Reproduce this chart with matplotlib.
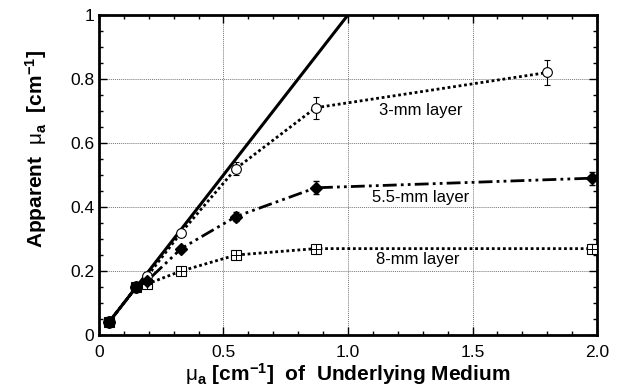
import numpy as np
import matplotlib
matplotlib.use("Agg")
import matplotlib.pyplot as plt
from matplotlib.ticker import MultipleLocator, FixedLocator

plt.rcParams["font.family"] = ["Liberation Sans", "DejaVu Sans"]
plt.rcParams["mathtext.fontset"] = "custom"
plt.rcParams["mathtext.rm"] = "Liberation Sans"
plt.rcParams["mathtext.it"] = "Liberation Sans"
plt.rcParams["mathtext.bf"] = "Liberation Sans:bold"

# underlying medium absorption (x) and apparent absorption for each layer
mu_under = [0.04, 0.15, 0.195, 0.33, 0.55, 0.87]
mu_3mm = [0.04, 0.15, 0.185, 0.32, 0.52, 0.71, 0.82]
err_3mm = [0.0, 0.0, 0.0, 0.0, 0.02, 0.034, 0.04]
x_3mm = mu_under + [1.80]
mu_55mm = [0.04, 0.15, 0.17, 0.27, 0.37, 0.46, 0.49]
err_55mm = [0.0, 0.0, 0.0, 0.0, 0.015, 0.02, 0.02]
x_55mm = mu_under + [1.98]
mu_8mm = [0.04, 0.15, 0.16, 0.20, 0.25, 0.27, 0.27]
err_8mm = [0.0, 0.0, 0.0, 0.0, 0.012, 0.012, 0.015]
x_8mm = mu_under + [1.98]
identity = [0.04, 1.0]

fig = plt.figure(figsize=(6.22, 3.91), dpi=100)
ax = fig.add_axes([0.159, 0.143, 0.801, 0.819])

ax.plot(identity, identity, color="black", lw=2.2, zorder=3)

ax.errorbar(x_3mm, mu_3mm, yerr=err_3mm, color="black", ls=(0, (1, 1)), lw=2,
            marker="o", ms=7, mfc="white", mec="black", mew=0.8,
            ecolor="black", elinewidth=0.8, capsize=2.5, zorder=4)
ax.errorbar(x_8mm, mu_8mm, yerr=err_8mm, color="black", ls=(0, (1, 1)), lw=2,
            marker="s", ms=7, mfc="white", mec="black", mew=0.8,
            ecolor="black", elinewidth=0.8, capsize=2.5, zorder=4)
# crosshair inside the square markers
ax.plot(x_8mm, mu_8mm, ls="none", marker="+", ms=7, mew=0.7, color="black", zorder=5)
ax.errorbar(x_55mm, mu_55mm, yerr=err_55mm, color="black",
            ls=(0, (5, 1.5, 1, 1.5, 1, 1.5)), lw=2,
            marker="D", ms=6, mfc="black", mec="black",
            ecolor="black", elinewidth=0.8, capsize=2.5, zorder=6)
# shared starting points drawn as solid dots
ax.plot(x_55mm[:2], mu_55mm[:2], ls="none", marker="o", ms=8, color="black", zorder=7)

ax.text(1.29, 0.70, "3-mm layer", fontsize=12, ha="center", va="center")
ax.text(1.29, 0.43, "5.5-mm layer", fontsize=12, ha="center", va="center")
ax.text(1.28, 0.235, "8-mm layer", fontsize=12, ha="center", va="center")

ax.set_xlim(0, 2.0)
ax.set_ylim(0, 1.0)
ax.xaxis.set_major_locator(FixedLocator([0, 0.5, 1.0, 1.5, 2.0]))
ax.set_xticklabels(["0", "0.5", "1.0", "1.5", "2.0"])
ax.yaxis.set_major_locator(FixedLocator([0, 0.2, 0.4, 0.6, 0.8, 1.0]))
ax.set_yticklabels(["0", "0.2", "0.4", "0.6", "0.8", "1"])
ax.xaxis.set_minor_locator(MultipleLocator(0.1))
ax.yaxis.set_minor_locator(MultipleLocator(0.05))
ax.tick_params(which="both", direction="in", top=True, right=True, labelsize=12.5,
               width=1)
ax.tick_params(which="major", length=6)
ax.tick_params(which="minor", length=3)
ax.tick_params(axis="x", pad=7)
ax.grid(which="major", color="#777777", ls=(0, (1, 1)), lw=0.7)
for s in ax.spines.values():
    s.set_linewidth(2)

ax.set_xlabel(r"$\mathrm{\mu}_\mathbf{a}$ [cm$^{\mathbf{-1}}$]  of  Underlying Medium",
              fontsize=15, fontweight="bold", labelpad=1)
ax.set_ylabel(r"Apparent  $\mathrm{\mu}_\mathbf{a}$  [cm$^{\mathbf{-1}}$]",
              fontsize=15, fontweight="bold")
ax.yaxis.set_label_coords(-0.1, 0.58)

fig.savefig("out.png", dpi=100)
